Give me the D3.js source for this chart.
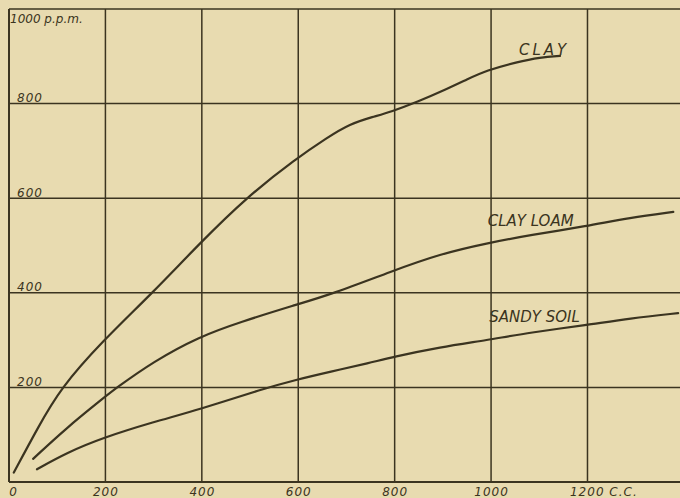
<!DOCTYPE html>
<html>
<head>
<meta charset="utf-8">
<script src="https://cdn.jsdelivr.net/npm/d3@7"></script>
<style>
  html, body { margin: 0; padding: 0; background: #e8dbb0; }
  svg { display: block; }
</style>
</head>
<body>
<div id="chart"></div>
<script>
// ---- data ----
const xTicks = [0, 200, 400, 600, 800, 1000, 1200];
const yTicks = [200, 400, 600, 800, 1000];
const xUnit = "C.C.";
const yUnit = "p.p.m.";

const clay = [
  [10, 20], [60, 115], [106, 197], [193, 297], [297, 399], [394, 503], [494, 603],
  [595, 683], [660, 728], [707, 757], [755, 772], [793, 783], [846, 803],
  [909, 831], [950, 851], [990, 870], [1054, 888], [1102, 898], [1143, 901]
];
const clayLoam = [
  [50, 49], [120, 115], [193, 175], [220, 197], [300, 255], [394, 307], [479, 338], [593, 374],
  [672, 398], [795, 446], [894, 482], [992, 505], [1081, 522], [1199, 541],
  [1288, 559], [1378, 571]
];
const sandySoil = [
  [58, 27], [120, 62], [193, 93], [300, 127], [394, 153], [527, 197], [595, 216], [666, 233],
  [749, 252], [795, 264], [894, 285], [992, 300], [1081, 316], [1199, 332],
  [1288, 346], [1388, 357]
];
const seriesNames = ["CLAY", "CLAY LOAM", "SANDY SOIL"];
const labelAnchors = [[1058, 903], [993, 541], [996, 338]];

// ---- layout ----
const W = 680, H = 498;
const ink = "#3b3420";
const x = d3.scaleLinear().domain([0, 1400]).range([9, 683.9]);
const y = d3.scaleLinear().domain([0, 1000]).range([482, 9]);

const svg = d3.select("#chart").append("svg")
  .attr("width", W).attr("height", H)
  .style("background", "#e8dbb0");

// grid
const grid = svg.append("g");
grid.selectAll("line.v").data(xTicks).join("line")
  .attr("x1", d => x(d)).attr("x2", d => x(d))
  .attr("y1", y(1000)).attr("y2", y(0))
  .attr("stroke", ink).attr("stroke-width", d => d === 0 ? 2 : 1.5);
grid.selectAll("line.h").data([0].concat(yTicks)).join("line")
  .attr("x1", x(0)).attr("x2", W)
  .attr("y1", d => y(d)).attr("y2", d => y(d))
  .attr("stroke", ink).attr("stroke-width", d => d === 0 ? 2 : 1.5);

const font = "'DejaVu Sans', sans-serif";

// x axis labels
const xAxis = d3.axisBottom(x).tickValues(xTicks).tickSize(0).tickPadding(0)
  .tickFormat(d => d === 1200 ? d + " " + xUnit : String(d));
const gx = svg.append("g").attr("transform", `translate(0,${y(0)})`).call(xAxis);
gx.select(".domain").remove();
gx.selectAll("text")
  .attr("y", 14).attr("dy", 0)
  .style("font-family", font).style("font-style", "italic")
  .style("font-size", "12px").style("letter-spacing", "1px")
  .attr("fill", ink)
  .each(function(d) {
    const t = d3.select(this);
    if (d === 1200) { t.attr("text-anchor", "start").attr("x", -18); }
    if (d === 0) { t.attr("x", 4); }
  });

// y axis labels
const yAxis = d3.axisLeft(y).tickValues(yTicks).tickSize(0).tickPadding(0)
  .tickFormat(d => d === 1000 ? d + " " + yUnit : String(d));
const gy = svg.append("g").attr("transform", `translate(${x(0)},0)`).call(yAxis);
gy.select(".domain").remove();
gy.selectAll("text")
  .attr("text-anchor", "start").attr("x", 8).attr("dy", -2)
  .style("font-family", font).style("font-style", "italic")
  .style("font-size", "12px").style("letter-spacing", "1px")
  .attr("fill", ink)
  .each(function(d) {
    if (d === 1000) d3.select(this).attr("x", 1).attr("dy", 13).style("letter-spacing", "0px");
  });

// curves
const line = d3.line().x(d => x(d[0])).y(d => y(d[1])).curve(d3.curveBasis);
[clay, clayLoam, sandySoil].forEach(s => {
  svg.append("path").datum(s).attr("d", line)
    .attr("fill", "none").attr("stroke", ink)
    .attr("stroke-width", 2.2).attr("stroke-linecap", "round");
});

// curve labels
svg.selectAll("text.series").data(seriesNames).join("text")
  .attr("class", "series")
  .attr("x", (d, i) => x(labelAnchors[i][0]))
  .attr("y", (d, i) => y(labelAnchors[i][1]))
  .style("font-family", font).style("font-style", "italic")
  .style("font-size", "15px")
  .style("letter-spacing", (d, i) => i === 0 ? "3px" : "0px")
  .attr("fill", ink)
  .text(d => d);
</script>
</body>
</html>
